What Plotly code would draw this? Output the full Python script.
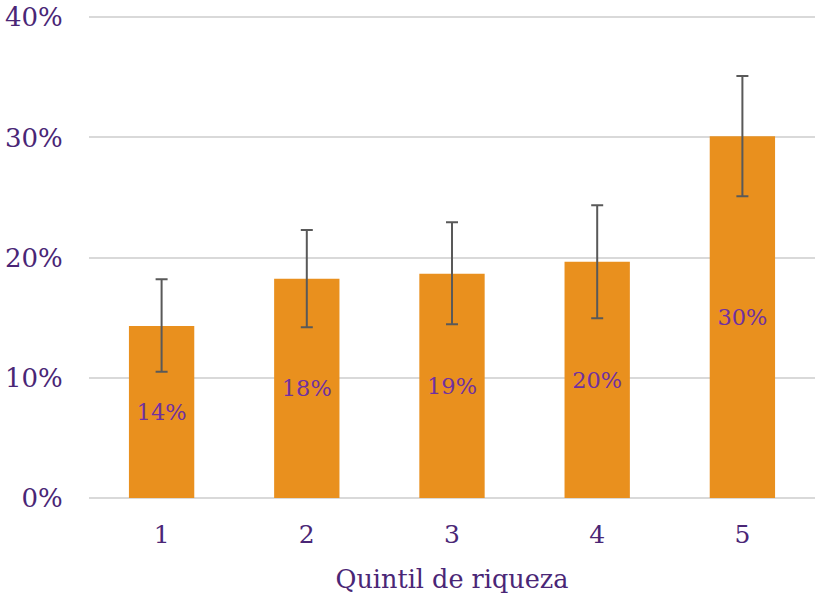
import plotly.graph_objects as go

# Data
quintiles = ["1", "2", "3", "4", "5"]
share = [0.143, 0.1825, 0.1865, 0.1966, 0.301]
err_plus = [0.039, 0.0405, 0.043, 0.047, 0.050]
err_minus = [0.038, 0.0405, 0.042, 0.047, 0.050]
labels = ["14%", "18%", "19%", "20%", "30%"]
y_ticks = [0, 0.1, 0.2, 0.3, 0.4]

purple = "#4A2676"
fnt = "DejaVu Serif"

fig = go.Figure()
fig.add_trace(go.Bar(
    x=quintiles, y=share,
    marker=dict(color="#E9901E", line=dict(width=0)),
    width=0.45,
    text=labels,
    textposition="inside",
    insidetextanchor="middle",
    textangle=0,
    textfont=dict(family=fnt, size=22.5, color="#7030A0"),
    error_y=dict(type="data", symmetric=False, array=err_plus, arrayminus=err_minus,
                 color="#595959", thickness=2, width=6),
    hoverinfo="skip",
))

fig.update_layout(
    width=815, height=594,
    margin=dict(l=89, r=0, t=16, b=96),
    plot_bgcolor="white", paper_bgcolor="white",
    showlegend=False,
    font=dict(family=fnt, color=purple, size=25),
    bargap=0.55,
)
fig.update_xaxes(
    automargin=False,
    showgrid=False, showline=False, zeroline=False,
    ticks="outside", ticklen=14, tickcolor="rgba(0,0,0,0)",
    tickfont=dict(family=fnt, size=25, color=purple),
    title=dict(text="Quintil de riqueza", font=dict(family=fnt, size=25.5, color=purple), standoff=25),
)
# range a bit above 40% so the top gridline is not dropped at the edge
fig.update_yaxes(
    automargin=False,
    range=[0, 0.401], tickvals=y_ticks, tickformat=".0%",
    ticklabeloverflow="allow",
    showgrid=True, gridcolor="#D9D9D9", gridwidth=2,
    zeroline=True, zerolinecolor="#D9D9D9", zerolinewidth=2,
    showline=False,
    ticks="outside", ticklen=20, tickcolor="rgba(0,0,0,0)",
    tickfont=dict(family=fnt, size=26, color=purple),
)

# drop the default 8px body margin so the figure fills the window
fig.write_html("out.html", config={"displayModeBar": False},
               post_script="document.body.style.margin='0';")
